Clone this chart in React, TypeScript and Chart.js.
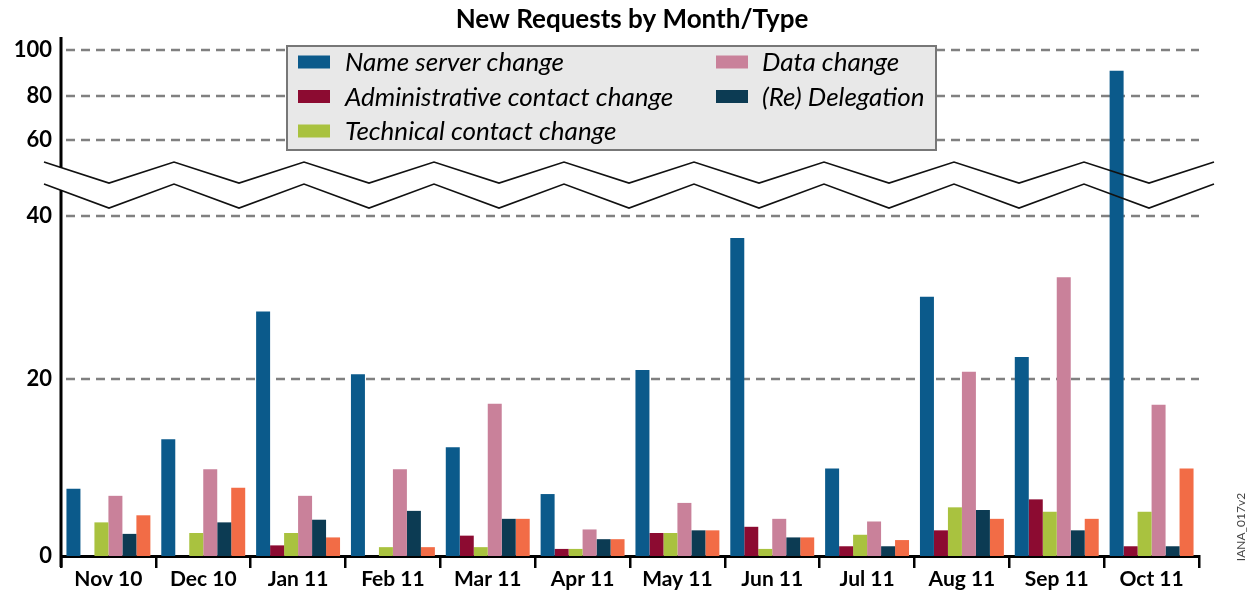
import React, { useEffect, useRef } from 'react';
import { Chart, registerables, LinearScale } from 'chart.js';

Chart.register(...registerables);

// ---------------- data ----------------
const months = ['Nov 10', 'Dec 10', 'Jan 11', 'Feb 11', 'Mar 11', 'Apr 11', 'May 11', 'Jun 11', 'Jul 11', 'Aug 11', 'Sep 11', 'Oct 11'];
const nameServerChange = [7.6, 13.2, 28.3, 20.6, 12.3, 7.0, 21.1, 37.3, 9.9, 30.1, 22.7, 91];
const adminContactChange = [0, 0, 1.2, 0, 2.3, 0.8, 2.6, 3.3, 1.1, 2.9, 6.4, 1.1];
const techContactChange = [3.8, 2.6, 2.6, 1.0, 1.0, 0.8, 2.6, 0.8, 2.4, 5.5, 5.0, 5.0];
const dataChange = [6.8, 9.8, 6.8, 9.8, 17.2, 3.0, 6.0, 4.2, 3.9, 20.9, 32.5, 17.1];
const reDelegation = [2.5, 3.8, 4.1, 5.1, 4.2, 1.9, 2.9, 2.1, 1.1, 5.2, 2.9, 1.1];
const otherRequests = [4.6, 7.7, 2.1, 1.0, 4.2, 1.9, 2.9, 2.1, 1.8, 4.2, 4.2, 9.9];
const yTicks = [0, 20, 40, 60, 80, 100];
const legendLabels = ['Name server change', 'Administrative contact change', 'Technical contact change', 'Data change', '(Re) Delegation'];
const titleText = 'New Requests by Month/Type';
const watermark = 'IANA_017v2';

// broken axis: value knots -> fraction of axis height
const knotValues = [0, 20, 40, 60, 80, 100, 105];
const knotFracs = [0, 0.341, 0.655, 0.8015, 0.8863, 0.975, 1];

const colors = ['#0b5a8b', '#8c0b31', '#a9c23f', '#c9819a', '#0c3b53', '#f26c46'];
const FONT = 'Lato, "Open Sans", sans-serif';

function toFrac(v: number): number {
  if (v <= knotValues[0]) return knotFracs[0] + (v - knotValues[0]) * (knotFracs[1] - knotFracs[0]) / (knotValues[1] - knotValues[0]);
  for (let i = 1; i < knotValues.length; i++) {
    if (v <= knotValues[i]) {
      const t = (v - knotValues[i - 1]) / (knotValues[i] - knotValues[i - 1]);
      return knotFracs[i - 1] + t * (knotFracs[i] - knotFracs[i - 1]);
    }
  }
  return 1;
}
function fromFrac(f: number): number {
  for (let i = 1; i < knotFracs.length; i++) {
    if (f <= knotFracs[i]) {
      const t = (f - knotFracs[i - 1]) / (knotFracs[i] - knotFracs[i - 1]);
      return knotValues[i - 1] + t * (knotValues[i] - knotValues[i - 1]);
    }
  }
  return knotValues[knotValues.length - 1];
}

class BrokenScale extends LinearScale {
  static id = 'broken';
  static defaults = LinearScale.defaults;
  buildTicks() {
    return yTicks.map((v) => ({ value: v }));
  }
  getPixelForValue(value: number) {
    return (this as any).getPixelForDecimal(toFrac(value));
  }
  getValueForPixel(pixel: number) {
    return fromFrac((this as any).getDecimalForPixel(pixel));
  }
}
Chart.register(BrokenScale as any);

const decorPlugin = {
  id: 'decor',
  beforeDatasetsDraw(chart: any) {
    const { ctx, chartArea } = chart;
    const y = chart.scales.y;
    ctx.save();
    ctx.strokeStyle = '#808080';
    ctx.lineWidth = 2.5;
    ctx.setLineDash([9, 6]);
    yTicks.forEach((v) => {
      if (v === 0) return;
      const py = Math.round(y.getPixelForValue(v));
      ctx.beginPath();
      ctx.moveTo(chartArea.left + 5, py);
      ctx.lineTo(chartArea.right, py);
      ctx.stroke();
    });
    ctx.restore();
  },
  afterDatasetsDraw(chart: any) {
    const { ctx, chartArea } = chart;
    const y = chart.scales.y;
    const y40 = y.getPixelForValue(40);
    ctx.save();

    // zigzag break lines
    const x0 = chartArea.left - 17;
    const half = 65;
    const upPeak = y40 - 54, upTrough = y40 - 33;
    const loPeak = y40 - 32, loTrough = y40 - 8;
    const zig = (peak: number, trough: number) => {
      ctx.beginPath();
      for (let k = 0; k <= 18; k++) {
        const px = x0 + k * half;
        const py = k % 2 === 0 ? peak : trough;
        if (k === 0) ctx.moveTo(px, py); else ctx.lineTo(px, py);
      }
      ctx.stroke();
    };
    ctx.strokeStyle = '#111';
    ctx.lineWidth = 1.6;
    zig(upPeak, upTrough);
    zig(loPeak, loTrough);

    // y axis line with break
    const ax = chartArea.left;
    const t = (ax - x0) / half;
    const upCross = upPeak + t * (upTrough - upPeak);
    const loCross = loPeak + t * (loTrough - loPeak);
    ctx.strokeStyle = '#000';
    ctx.lineWidth = 3;
    ctx.beginPath();
    ctx.moveTo(ax, chartArea.top);
    ctx.lineTo(ax, upCross);
    ctx.moveTo(ax, loCross);
    ctx.lineTo(ax, chartArea.bottom + 11);
    ctx.stroke();

    // legend box
    const bx = 287, by = 46, bw = 649, bh = 104;
    ctx.fillStyle = '#e8e8e8';
    ctx.fillRect(bx, by, bw, bh);
    ctx.strokeStyle = '#777';
    ctx.lineWidth = 2;
    ctx.strokeRect(bx, by, bw, bh);
    ctx.font = 'italic 26px ' + FONT;
    ctx.textBaseline = 'middle';
    ctx.textAlign = 'left';
    legendLabels.forEach((lab, i) => {
      const col = i < 3 ? 0 : 1;
      const row = i < 3 ? i : i - 3;
      const ry = 62 + row * 34.5;
      const sx = col === 0 ? 298 : 716;
      const tx = col === 0 ? 345 : 762;
      ctx.fillStyle = chart.data.datasets[i].backgroundColor;
      ctx.fillRect(sx, ry - 6.5, 32, 13);
      ctx.fillStyle = '#000';
      ctx.fillText(lab, tx, ry + 1);
    });

    // title
    ctx.font = 'bold 26px ' + FONT;
    ctx.textAlign = 'center';
    ctx.fillStyle = '#000';
    ctx.fillText(titleText, (chartArea.left + chartArea.right) / 2 + 2, 20);

    // watermark
    ctx.save();
    ctx.translate(1241, 527);
    ctx.rotate(-Math.PI / 2);
    ctx.font = '12px ' + FONT;
    ctx.fillStyle = '#444';
    ctx.textAlign = 'center';
    ctx.fillText(watermark, 0, 0);
    ctx.restore();

    ctx.restore();
  },
};

export default function App() {
  const ref = useRef<HTMLCanvasElement>(null);
  useEffect(() => {
    document.body.style.margin = '0';
    const series = [nameServerChange, adminContactChange, techContactChange, dataChange, reDelegation, otherRequests];
    const labels = [...legendLabels, 'Other'];
    const chart = new Chart(ref.current as HTMLCanvasElement, {
      type: 'bar',
      data: {
        labels: months,
        datasets: series.map((d, i) => ({
          label: labels[i],
          data: d,
          backgroundColor: colors[i],
          borderWidth: 0,
          categoryPercentage: 0.885,
          barPercentage: 1,
        })),
      },
      options: {
        responsive: false,
        animation: false,
        layout: { padding: { top: 37, right: 51, left: 0, bottom: 0 } },
        plugins: { legend: { display: false }, tooltip: { enabled: false }, title: { display: false } },
        scales: {
          x: {
            type: 'category',
            offset: true,
            grid: { drawOnChartArea: false, drawTicks: true, tickLength: 12, tickWidth: 2.5, tickColor: '#000', color: '#000', lineWidth: 2.5 },
            border: { display: true, color: '#000', width: 3 },
            ticks: { color: '#000', font: { family: FONT, size: 21, weight: 'bold' }, padding: -1, maxRotation: 0, autoSkip: false },
            afterFit: (s: any) => { s.height = 37; },
          },
          y: {
            type: 'broken' as any,
            min: 0,
            max: 105,
            grid: { display: false, drawTicks: false },
            border: { display: false },
            ticks: { color: '#000', font: { family: FONT, size: 22, weight: 'bold' }, padding: 9, callback: (v: any) => String(v) },
            afterFit: (s: any) => { s.width = 61; },
          },
        },
      } as any,
      plugins: [decorPlugin],
    });
    return () => chart.destroy();
  }, []);
  return (
    <div style={{ width: 1250, height: 593 }}>
      <canvas ref={ref} width={1250} height={593} style={{ display: 'block' }} />
    </div>
  );
}
